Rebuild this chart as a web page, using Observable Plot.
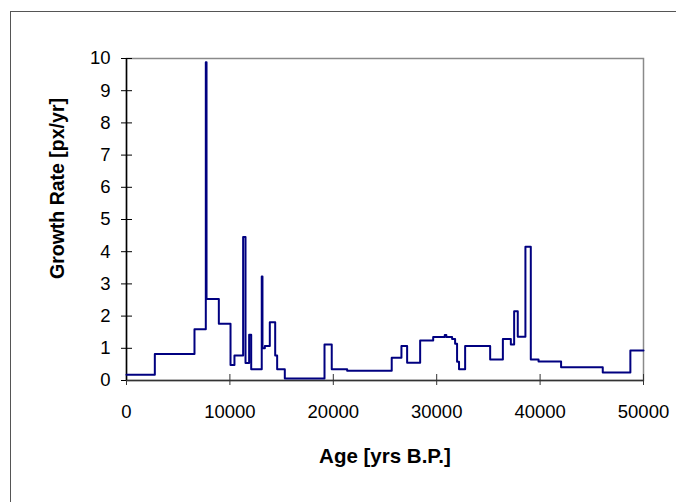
<!DOCTYPE html>
<html>
<head>
<meta charset="utf-8">
<script src="https://cdn.jsdelivr.net/npm/d3@7"></script>
<script src="https://cdn.jsdelivr.net/npm/@observablehq/plot@0.6"></script>
<style>
  html, body { margin: 0; padding: 0; background: #fff; overflow: hidden; }
  #wrap { position: relative; width: 676px; height: 502px; }
  #outer { position: absolute; left: 10px; top: 11px; width: 700px; height: 520px;
           border-left: 1px solid #555; border-top: 1px solid #555; }
  #chart { position: absolute; left: 0; top: 0; }
</style>
</head>
<body>
<div id="wrap"><div id="outer"></div><div id="chart"></div></div>
<script>
// Step starts (age, yrs B.P.) and growth rate for each step
const ages = [0, 2740, 6575, 7670, 7740, 8930, 10060, 10440, 11280, 11510,
  11860, 12060, 13080, 13150, 13380, 13860, 14380, 14570, 15310, 19150,
  19850, 21340, 25650, 26590, 27140, 28400, 29660, 30780, 30930, 31490,
  31780, 31970, 32160, 32750, 35170, 36400, 37170, 37490, 37840, 38580,
  39100, 39850, 42030, 46060, 48730, 50000];
const rates = [0.18, 0.82, 1.59, 9.88, 2.53, 1.76, 0.48, 0.78, 4.46, 0.54,
  1.42, 0.35, 3.23, 1.0, 1.07, 1.81, 0.78, 0.35, 0.06, 1.12,
  0.35, 0.30, 0.71, 1.07, 0.55, 1.24, 1.35, 1.41, 1.35, 1.29,
  1.14, 0.58, 0.35, 1.07, 0.65, 1.29, 1.12, 2.15, 1.36, 4.15,
  0.65, 0.59, 0.41, 0.25, 0.93, 0.93];
const xTicks = [0, 10000, 20000, 30000, 40000, 50000];
const yTicks = [0, 1, 2, 3, 4, 5, 6, 7, 8, 9, 10];
const xTitle = "Age [yrs B.P.]";
const yTitle = "Growth Rate [px/yr]";

const data = ages.map((a, i) => ({age: a, rate: rates[i]}));
const font = "'Liberation Sans', Arial, Helvetica, sans-serif";

const chart = Plot.plot({
  width: 676,
  height: 502,
  marginLeft: 126,
  marginRight: 33,
  marginTop: 58,
  marginBottom: 122,
  style: {fontFamily: font, fontSize: "18px", color: "#000", background: "transparent", overflow: "visible"},
  x: {domain: [0, 50000]},
  y: {domain: [0, 10]},
  marks: [
    Plot.frame({stroke: "#8a8a8a", strokeWidth: 1.5}),
    Plot.axisX(xTicks, {label: null, tickSize: 11, dy: -6, tickFormat: () => "", stroke: "#333"}),
    Plot.axisX(xTicks, {label: null, tickSize: 0, tickPadding: 24, tickFormat: d => String(d), fontSize: 18.5, fill: "#000"}),
    Plot.axisY(yTicks, {label: null, tickSize: 11, dx: 6, tickFormat: () => "", stroke: "#000"}),
    Plot.axisY(yTicks, {label: null, tickSize: 0, tickPadding: 16, tickFormat: d => String(d), fontSize: 18.5, fill: "#000"}),
    Plot.ruleY([0], {stroke: "#333", strokeWidth: 1.5}),
    Plot.ruleX([0], {stroke: "#000", strokeWidth: 1.5}),
    Plot.line(data, {x: "age", y: "rate", curve: "step-after", stroke: "#000080", strokeWidth: 2}),
    Plot.text([xTitle], {frameAnchor: "bottom", lineAnchor: "middle", textAnchor: "middle", dy: 76, fontWeight: "bold", fontSize: 20.5, fill: "#000"}),
    Plot.text([yTitle], {frameAnchor: "left", lineAnchor: "middle", textAnchor: "middle", dx: -69, dy: -31, rotate: -90, fontWeight: "bold", fontSize: 19.5, fill: "#000"})
  ]
});
document.getElementById("chart").appendChild(chart);
</script>
</body>
</html>
